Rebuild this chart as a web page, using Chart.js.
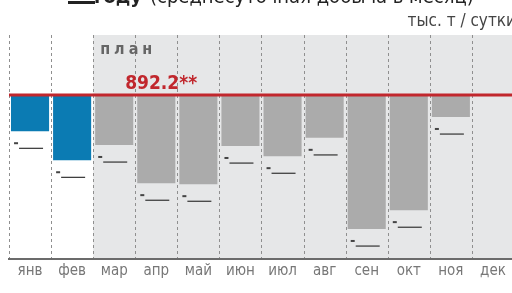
<!DOCTYPE html>
<html>
<head>
<meta charset="utf-8">
<script src="https://cdn.jsdelivr.net/npm/chart.js@4/dist/chart.umd.min.js"></script>
<style>
    html, body { margin: 0; padding: 0; background: #fff; overflow: hidden; }
    #wrap { width: 530px; height: 293px; }
</style>
</head>
<body>
<div id="wrap"><canvas id="planChart" width="530" height="293"></canvas></div>
<script>
const months = ['янв', 'фев', 'мар', 'апр', 'май', 'июн', 'июл', 'авг', 'сен', 'окт', 'ноя', 'дек'];
const planValue = 892.2;
// fact (blue) and forecast (gray), thousand t per day
const factValues = [885.1, 879.4, null, null, null, null, null, null, null, null, null, null];
const forecastValues = [null, null, 882.4, 874.9, 874.7, 882.2, 880.2, 883.8, 865.9, 869.6, 887.9, null];

const FONT = "'Liberation Sans Narrow', 'DejaVu Sans Condensed', sans-serif";

const barData = months.map((m, i) => {
    const v = factValues[i] != null ? factValues[i] : forecastValues[i];
    return v == null ? null : [v, planValue];
});
const barColors = months.map((m, i) => factValues[i] != null ? '#0b7bb3' : '#ababab');

// gray "plan" zone behind the forecast months + dashed month separators
const backgroundZone = {
    id: 'backgroundZone',
    beforeDraw(chart) {
        const { ctx, chartArea, scales } = chart;
        const firstPlan = forecastValues.findIndex(v => v != null);
        const half = (scales.x.getPixelForValue(1) - scales.x.getPixelForValue(0)) / 2;
        const left = scales.x.getPixelForValue(firstPlan) - half;
        ctx.save();
        ctx.fillStyle = '#e6e7e8';
        ctx.fillRect(left, chartArea.top, chartArea.right - left, chartArea.bottom - chartArea.top);

        ctx.strokeStyle = '#8f8f8f';
        ctx.lineWidth = 1;
        ctx.setLineDash([3, 3]);
        for (let i = 0; i <= months.length; i++) {
            const x = Math.round(scales.x.getPixelForValue(i) - half) + 0.5;
            ctx.beginPath();
            ctx.moveTo(x, chartArea.top);
            ctx.lineTo(x, chartArea.bottom);
            ctx.stroke();
        }
        ctx.restore();
    }
};

// plan line, captions and hidden value marks
const overlay = {
    id: 'overlay',
    afterDatasetsDraw(chart) {
        const { ctx, chartArea, scales } = chart;
        const yPlan = scales.y.getPixelForValue(planValue);
        const firstPlan = forecastValues.findIndex(v => v != null);
        const half = (scales.x.getPixelForValue(1) - scales.x.getPixelForValue(0)) / 2;
        const zoneLeft = scales.x.getPixelForValue(firstPlan) - half;
        ctx.save();

        ctx.strokeStyle = '#c1272d';
        ctx.lineWidth = 3;
        ctx.beginPath();
        ctx.moveTo(chartArea.left, yPlan);
        ctx.lineTo(chartArea.right, yPlan);
        ctx.stroke();

        // masked value labels under bars
        chart.getDatasetMeta(0).data.forEach((el, i) => {
            if (barData[i] == null) return;
            const bottom = Math.max(el.y, el.base);
            ctx.fillStyle = '#444';
            ctx.fillRect(el.x - 16, bottom + 11, 4, 2);
            ctx.fillStyle = '#333';
            ctx.fillRect(el.x - 11, bottom + 16.5, 24, 1.2);
        });

        ctx.fillStyle = '#666';
        ctx.font = 'bold 16px ' + FONT;
        ctx.textBaseline = 'alphabetic';
        ctx.letterSpacing = '4px';
        ctx.fillText('план', zoneLeft + 7, chartArea.top + 19);
        ctx.letterSpacing = '0px';

        ctx.fillStyle = '#c1272d';
        ctx.font = 'bold 19px ' + FONT;
        ctx.fillText(planValue.toFixed(1) + '**', zoneLeft + 32, yPlan - 6);

        // units and the cut-off title
        ctx.fillStyle = '#444';
        ctx.font = '17px ' + FONT;
        ctx.textAlign = 'right';
        ctx.fillText('тыс. т / сутки', 516, 26);
        ctx.fillStyle = '#222';
        ctx.font = 'bold 20px ' + FONT;
        ctx.fillText('году', 142, 3);
        ctx.textAlign = 'left';
        ctx.fillRect(68, 1, 27, 3);
        ctx.font = '20px ' + FONT;
        ctx.fillText('(среднесуточная добыча в месяц)', 150, 3);
        ctx.restore();
    }
};

new Chart(document.getElementById('planChart').getContext('2d'), {
    type: 'bar',
    data: {
        labels: months,
        datasets: [{
            data: barData,
            backgroundColor: barColors,
            borderWidth: 0,
            barPercentage: 0.905,
            categoryPercentage: 1
        }]
    },
    options: {
        responsive: false,
        animation: false,
        layout: { padding: { left: 9, right: 16, top: 35, bottom: 0 } },
        scales: {
            x: {
                afterFit(scale) { scale.height = 34; },
                grid: { display: false },
                border: { display: true, color: '#6b6b6b', width: 2 },
                ticks: {
                    color: '#777',
                    padding: -5,
                    font: { family: FONT, size: 15 }
                }
            },
            y: {
                display: false,
                min: 860,
                max: 904
            }
        },
        plugins: {
            legend: { display: false },
            tooltip: { enabled: false }
        }
    },
    plugins: [backgroundZone, overlay]
});
</script>
</body>
</html>
